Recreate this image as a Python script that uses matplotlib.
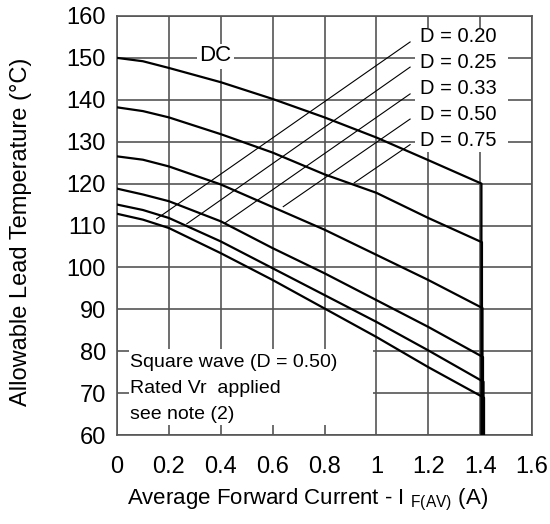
import matplotlib
matplotlib.use("Agg")
import matplotlib.pyplot as plt
from matplotlib.patches import Rectangle

plt.rcParams['font.family'] = ['Liberation Sans', 'DejaVu Sans']

# Derating curves
current = [0, 0.1, 0.2, 0.4, 0.6, 0.8, 1.0, 1.2, 1.405]
temp_dc = [150, 149.2, 147.6, 144.2, 140.2, 135.8, 131.0, 125.6, 120.0]
temp_d075 = [138.2, 137.3, 135.8, 131.8, 127.4, 122.2, 117.8, 111.8, 106.0]
temp_d050 = [126.5, 125.7, 124.1, 119.8, 114.4, 109.0, 103.0, 97.0, 90.3]
temp_d033 = [118.8, 117.4, 115.8, 111.0, 104.6, 98.6, 92.2, 85.8, 78.6]
temp_d025 = [115.0, 113.7, 111.8, 106.2, 99.8, 93.4, 87.0, 80.2, 72.7]
temp_d020 = [112.8, 111.4, 109.4, 103.4, 97.0, 90.2, 83.4, 76.2, 68.9]
curves = [temp_dc, temp_d075, temp_d050, temp_d033, temp_d025, temp_d020]

# duty cycle labels and their leader lines (low end -> label end)
duty_labels = ['D = 0.20', 'D = 0.25', 'D = 0.33', 'D = 0.50', 'D = 0.75']
label_y = [155.0, 148.8, 142.6, 136.4, 130.2]
leader_x0 = [0.153, 0.269, 0.416, 0.641, 0.915]
leader_y0 = [111.6, 110.4, 110.6, 114.5, 120.2]
leader_x1 = [1.13, 1.13, 1.13, 1.13, 1.13]
leader_y1 = [153.8, 147.8, 141.4, 135.4, 129.3]

xticks = [0, 0.2, 0.4, 0.6, 0.8, 1.0, 1.2, 1.4, 1.6]
xtick_labels = ['0', '0.2', '0.4', '0.6', '0.8', '1', '1.2', '1.4', '1.6']
yticks = list(range(60, 161, 10))

fig = plt.figure(figsize=(5.5, 5.24), dpi=100)
ax = fig.add_axes([0.2127, 0.1698, 0.7546, 0.7997])

ax.set_xlim(0, 1.6)
ax.set_ylim(60, 160)
ax.set_xticks(xticks)
ax.set_xticklabels(xtick_labels)
ax.set_yticks(yticks)
ax.tick_params(axis='both', length=0, labelsize=17)
ax.tick_params(axis='x', pad=15)
ax.tick_params(axis='y', pad=8)
ax.grid(True, color='#555555', linewidth=1.2, zorder=0)
ax.set_axisbelow(True)
for sp in ax.spines.values():
    sp.set_color('#555555')
    sp.set_linewidth(1.2)

# white patches behind the text blocks (they hide the grid)
ax.add_patch(Rectangle((0.047, 62.3), 0.94, 18.3, facecolor='white', edgecolor='none', zorder=1))
ax.add_patch(Rectangle((1.149, 127.6), 0.36, 29.6, facecolor='white', edgecolor='none', zorder=1))
ax.add_patch(Rectangle((0.31, 147.4), 0.14, 6.0, facecolor='white', edgecolor='none', zorder=1))

# curves, each one drops to the x-axis at the rated current
for i, temps in enumerate(curves):
    xs = current + [current[-1] + 0.002 * i]
    ys = temps + [60]
    xs[-2] = xs[-2] + 0.002 * i
    ax.plot(xs, ys, color='black', linewidth=1.6, zorder=3)

for i in range(len(duty_labels)):
    ax.plot([leader_x0[i], leader_x1[i]], [leader_y0[i], leader_y1[i]],
            color='black', linewidth=0.8, zorder=2)
    ax.text(1.17, label_y[i], duty_labels[i], fontsize=14.5, va='center', ha='left', zorder=4)

ax.text(0.38, 150.6, 'DC', fontsize=16, va='center', ha='center', zorder=4)

ax.text(0.05, 77.4, 'Square wave (D = 0.50)', fontsize=14, va='center', ha='left', zorder=4)
ax.text(0.05, 71.0, 'Rated Vr  applied', fontsize=14, va='center', ha='left', zorder=4)
ax.text(0.05, 65.0, 'see note (2)', fontsize=14, va='center', ha='left', zorder=4)

ax.set_ylabel('Allowable Lead Temperature (°C)', fontsize=17)
ax.yaxis.set_label_coords(-0.205, 0.486)
ax.set_xlabel('Average Forward Current - I $_{\\mathregular{F(AV)}}$ (A)', fontsize=16)
ax.xaxis.set_label_coords(0.46, -0.124)

fig.savefig('out.png', dpi=100)
